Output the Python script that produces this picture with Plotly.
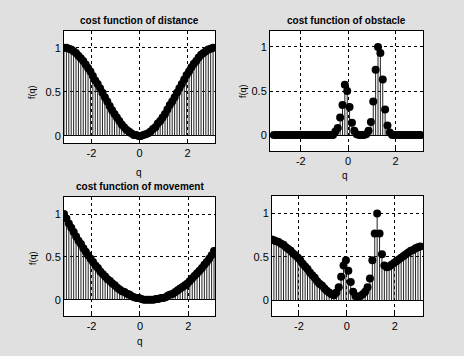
import plotly.graph_objects as go

W, H = 464, 356

# sample points q (rad)
q = [-3.14, -3.04, -2.94, -2.84, -2.74, -2.64, -2.54, -2.44, -2.34, -2.24,
     -2.14, -2.04, -1.94, -1.84, -1.74, -1.64, -1.54, -1.44, -1.34, -1.24,
     -1.14, -1.04, -0.94, -0.84, -0.74, -0.64, -0.54, -0.44, -0.34, -0.24,
     -0.14, -0.04, 0.06, 0.16, 0.26, 0.36, 0.46, 0.56, 0.66, 0.76,
     0.86, 0.96, 1.06, 1.16, 1.26, 1.36, 1.46, 1.56, 1.66, 1.76,
     1.86, 1.96, 2.06, 2.16, 2.26, 2.36, 2.46, 2.56, 2.66, 2.76,
     2.86, 2.96, 3.06]

cost_distance = [1.00, 1.00, 0.99, 0.98, 0.96, 0.94, 0.91, 0.88, 0.85, 0.81,
                 0.77, 0.73, 0.68, 0.63, 0.59, 0.54, 0.49, 0.44, 0.39, 0.34,
                 0.29, 0.25, 0.21, 0.17, 0.13, 0.10, 0.07, 0.05, 0.03, 0.01,
                 0.01, 0.00, 0.00, 0.01, 0.02, 0.03, 0.05, 0.08, 0.10, 0.14,
                 0.17, 0.21, 0.25, 0.30, 0.35, 0.39, 0.44, 0.49, 0.54, 0.59,
                 0.64, 0.69, 0.73, 0.78, 0.82, 0.85, 0.89, 0.92, 0.94, 0.96,
                 0.98, 0.99, 1.00]

cost_obstacle = [0.00, 0.00, 0.00, 0.00, 0.00, 0.00, 0.00, 0.00, 0.00, 0.00,
                 0.00, 0.00, 0.00, 0.00, 0.00, 0.00, 0.00, 0.00, 0.00, 0.00,
                 0.00, 0.00, 0.00, 0.00, 0.00, 0.00, 0.04, 0.08, 0.20, 0.34,
                 0.57, 0.50, 0.32, 0.14, 0.05, 0.01, 0.00, 0.00, 0.00, 0.01,
                 0.05, 0.15, 0.38, 0.74, 1.00, 0.93, 0.63, 0.29, 0.11, 0.03,
                 0.00, 0.00, 0.00, 0.00, 0.00, 0.00, 0.00, 0.00, 0.00, 0.00,
                 0.00, 0.00, 0.00]

cost_movement = [1.00, 0.95, 0.89, 0.84, 0.79, 0.74, 0.69, 0.65, 0.60, 0.56,
                 0.52, 0.48, 0.44, 0.40, 0.37, 0.33, 0.30, 0.27, 0.24, 0.22,
                 0.19, 0.17, 0.14, 0.12, 0.10, 0.09, 0.07, 0.06, 0.04, 0.03,
                 0.02, 0.02, 0.01, 0.00, 0.00, 0.00, 0.00, 0.00, 0.01, 0.01,
                 0.02, 0.02, 0.03, 0.05, 0.06, 0.07, 0.09, 0.11, 0.13, 0.15,
                 0.17, 0.19, 0.22, 0.25, 0.28, 0.31, 0.34, 0.37, 0.41, 0.44,
                 0.48, 0.52, 0.57]

cost_total = [0.70, 0.69, 0.68, 0.67, 0.65, 0.64, 0.61, 0.59, 0.57, 0.54,
              0.52, 0.49, 0.46, 0.42, 0.39, 0.36, 0.32, 0.29, 0.26, 0.22,
              0.19, 0.17, 0.14, 0.11, 0.09, 0.07, 0.06, 0.09, 0.15, 0.27,
              0.40, 0.46, 0.34, 0.21, 0.10, 0.05, 0.04, 0.05, 0.07, 0.10,
              0.15, 0.25, 0.46, 0.77, 1.00, 0.77, 0.53, 0.40, 0.38, 0.39,
              0.41, 0.43, 0.45, 0.47, 0.49, 0.51, 0.53, 0.55, 0.57, 0.58,
              0.60, 0.61, 0.62]

titles = ["cost function of distance", "cost function of obstacle",
          "cost function of movement", ""]
series = [cost_distance, cost_obstacle, cost_movement, cost_total]

# panel boxes in pixels: (left, right, top, bottom), axis ranges
boxes = [(64, 215, 31, 143), (270, 423, 31, 151), (64, 215, 197, 316), (272, 423, 196, 316)]
xranges = [[-3.14, 3.14], [-3.3, 3.16], [-3.14, 3.10], [-3.12, 3.17]]
yranges = [[-0.08, 1.19], [-0.18, 1.18], [-0.19, 1.20], [-0.18, 1.20]]

FONT = "Liberation Sans, Arial, sans-serif"
fig = go.Figure()
layout = dict(
    width=W, height=H, margin=dict(l=0, r=0, t=0, b=0),
    paper_bgcolor="#e0e0e0", plot_bgcolor="white", showlegend=False,
    font=dict(family=FONT, size=10, color="black"),
)

for i, (vals, box) in enumerate(zip(series, boxes)):
    n = i + 1
    xa = "x" if n == 1 else f"x{n}"
    ya = "y" if n == 1 else f"y{n}"
    sx, sy = [], []
    for xv, yv in zip(q, vals):
        sx += [xv, xv, None]
        sy += [0, yv, None]
    fig.add_trace(go.Scatter(x=sx, y=sy, mode="lines", xaxis=xa, yaxis=ya,
                             line=dict(color="#222222", width=1), hoverinfo="skip"))
    fig.add_trace(go.Scatter(x=q, y=vals, mode="markers", xaxis=xa, yaxis=ya,
                             marker=dict(color="black", size=8,
                                         line=dict(width=0))))
    l, r, t, b = box
    axis_common = dict(showline=True, linecolor="black", linewidth=1, mirror=True,
                       showgrid=True, gridcolor="black", gridwidth=1,
                       griddash="3px,3px", ticks="inside", ticklen=3,
                       tickcolor="black", tickfont=dict(size=11, color="black"))
    layout["xaxis" if n == 1 else f"xaxis{n}"] = dict(
        domain=[l / W, r / W], range=xranges[i], tickvals=[-2, 0, 2],
        ticktext=["-2", "0", "2"], anchor=ya, zeroline=False, **axis_common)
    layout["yaxis" if n == 1 else f"yaxis{n}"] = dict(
        domain=[1 - b / H, 1 - t / H], range=yranges[i], tickvals=[0, 0.5, 1],
        ticktext=["0", "0.5", "1"], anchor=xa, zeroline=True,
        zerolinecolor="black", zerolinewidth=1, **axis_common)

def px(x, y):
    return x / W, 1 - y / H

ann = []
title_pos = [(139, 20), (346, 20), (140, 186)]
for t, (x, y) in zip(titles, title_pos):
    ax, ay = px(x, y)
    ann.append(dict(text=f"<b>{t}</b>", x=ax, y=ay, xref="paper", yref="paper",
                    showarrow=False, font=dict(size=10), xanchor="center", yanchor="middle"))
for (x, y) in [(32, 92), (243, 91), (33, 258)]:
    ax, ay = px(x, y)
    ann.append(dict(text="f(q)", x=ax, y=ay, xref="paper", yref="paper", textangle=-90,
                    showarrow=False, font=dict(size=9), xanchor="center", yanchor="middle"))
for (x, y) in [(139, 172), (345, 175), (140, 341)]:
    ax, ay = px(x, y)
    ann.append(dict(text="q", x=ax, y=ay, xref="paper", yref="paper",
                    showarrow=False, font=dict(size=10), xanchor="center", yanchor="middle"))
layout["annotations"] = ann

fig.update_layout(**layout)
fig.write_html("out.html", config={"displayModeBar": False},
               post_script="document.body.style.margin='0';")
